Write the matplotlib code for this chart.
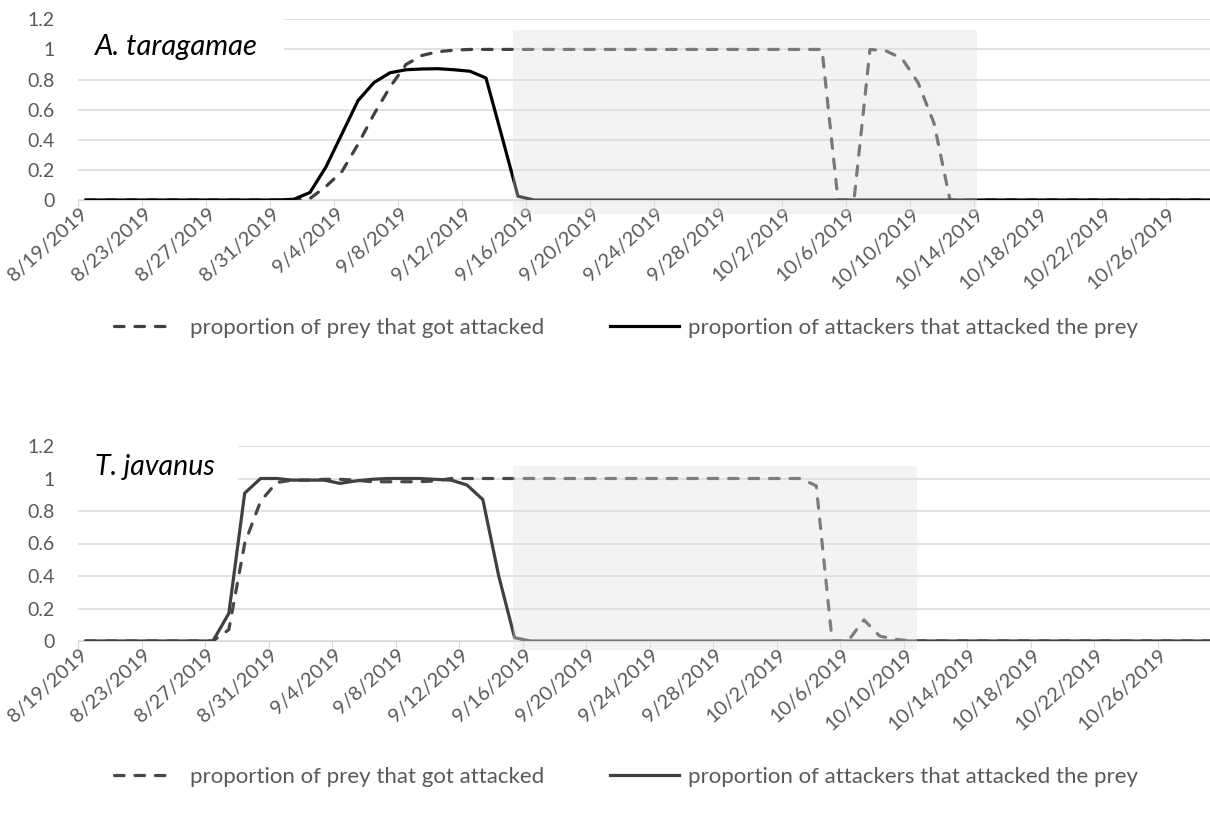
import pandas as pd
import matplotlib
matplotlib.use("Agg")
import matplotlib.pyplot as plt
import matplotlib.dates as mdates
import matplotlib.transforms as mtransforms
from matplotlib.lines import Line2D
from matplotlib.patches import Rectangle

plt.rcParams["font.family"] = ["Lato", "DejaVu Sans"]

# one value per day, plotted at midday
START = pd.Timestamp("2019-08-19")
DAYS = pd.date_range(START, periods=72, freq="D") + pd.Timedelta(hours=12)

TICK_LABELS = ["8/19/2019", "8/23/2019", "8/27/2019", "8/31/2019", "9/4/2019",
               "9/8/2019", "9/12/2019", "9/16/2019", "9/20/2019", "9/24/2019",
               "9/28/2019", "10/2/2019", "10/6/2019", "10/10/2019", "10/14/2019",
               "10/18/2019", "10/22/2019", "10/26/2019"]
Y_TICKS = [0, 0.2, 0.4, 0.6, 0.8, 1.0, 1.2]
Y_LABELS = ["0", "0.2", "0.4", "0.6", "0.8", "1", "1.2"]

LEGEND_LABELS = ["proportion of prey that got attacked",
                 "proportion of attackers that attacked the prey"]

# A. taragamae
PREY_A = ([0.0] * 14
          + [0.01, 0.09, 0.19, 0.37, 0.57, 0.75, 0.90, 0.96, 0.985, 0.995]
          + [1.0] * 23
          + [0.0, 0.0, 1.0, 0.99, 0.94, 0.78, 0.51]
          + [0.0] * 18)
ATTACK_A = ([0.0] * 13
            + [0.005, 0.05, 0.22, 0.44, 0.66, 0.78, 0.845, 0.865, 0.87, 0.872,
               0.865, 0.855, 0.81, 0.42, 0.025]
            + [0.0] * 44)

# T. javanus
PREY_T = ([0.0] * 9
          + [0.07, 0.60, 0.86, 0.975, 0.99, 0.99, 0.995, 0.995, 0.99, 0.98,
             0.98, 0.98, 0.98, 0.985]
          + [1.0] * 23
          + [0.955, 0.0, 0.0, 0.13, 0.03, 0.01]
          + [0.0] * 20)
ATTACK_T = ([0.0] * 9
            + [0.17, 0.91, 1.0, 1.0, 0.99, 0.99, 0.99, 0.97, 0.985, 0.995,
               1.0, 1.0, 1.0, 0.995, 0.99, 0.96, 0.87, 0.40, 0.02]
            + [0.0] * 44)

W, H = 1210, 813
LINE_W = 2.3
DASH = (3.0, 3.4)
GRID = "#d9d9d9"
TEXT = "#595959"

fig = plt.figure(figsize=(W / 100, H / 100), dpi=100)

panels = [
    dict(top=19.3, zero=200, prey=PREY_A, attack=ATTACK_A, c_prey="#404040", c_att="#000000",
         name="A. taragamae", name_size=21, name_y=0.963, shade=(27.19, 56.19),
         shade_y=(-0.096, 1.129), xend=70.75, box=284, leg_y=328),
    dict(top=446, zero=641, prey=PREY_T, attack=ATTACK_T, c_prey="#474747", c_att="#404040",
         name="T. javanus", name_size=20.5, name_y=1.02, shade=(27.4, 52.85),
         shade_y=(-0.057, 1.076), xend=71.3, box=238, leg_y=777),
]

tick_dates = pd.to_datetime(TICK_LABELS, format="%m/%d/%Y")

for p in panels:
    ax = fig.add_axes([78 / W, 1 - p["zero"] / H, (W - 78) / W, (p["zero"] - p["top"]) / H])
    ax.plot(DAYS, p["prey"], color=p["c_prey"], lw=LINE_W, linestyle=(0, DASH),
            dash_capstyle="round", zorder=3)
    ax.plot(DAYS, p["attack"], color=p["c_att"], lw=LINE_W, solid_joinstyle="round", zorder=3.1)

    ax.set_xlim(START, START + pd.Timedelta(days=p["xend"]))
    ax.set_ylim(0, 1.2)
    ax.set_yticks(Y_TICKS)
    ax.set_yticklabels(Y_LABELS)
    ax.set_xticks(tick_dates)
    ax.set_xticklabels(TICK_LABELS, rotation=42, ha="right", va="center", rotation_mode="anchor")

    ax.tick_params(axis="x", length=5, width=0.8, color=GRID, labelcolor=TEXT, labelsize=14.5, pad=3)
    ax.tick_params(axis="y", length=0, labelcolor=TEXT, labelsize=14, pad=17)
    # nudge the slanted labels right (after tick_params, which resets transforms)
    shift = mtransforms.ScaledTranslation(0.07, 0, fig.dpi_scale_trans)
    for lab in ax.get_xticklabels():
        lab.set_transform(lab.get_transform() + shift)

    ax.yaxis.grid(True, color=GRID, lw=1.1)
    ax.set_axisbelow(True)
    for side in ["left", "right", "top"]:
        ax.spines[side].set_visible(False)
    ax.spines["bottom"].set_color(GRID)

    # shaded period, laid over the lines
    x0 = mdates.date2num(START + pd.Timedelta(days=p["shade"][0]))
    y0, y1 = p["shade_y"]
    ax.add_patch(Rectangle((x0, y0), p["shade"][1] - p["shade"][0], y1 - y0,
                           fc="#e0e0e0", ec="none", alpha=0.36, clip_on=False, zorder=4))

    # white box behind the species name
    bx = (p["box"] - 78) / (W - 78)
    ax.add_patch(Rectangle((0, 0.93), bx, 0.32, transform=ax.get_yaxis_transform(),
                           fc="white", ec="none", clip_on=False, zorder=2))
    ax.text(17 / (W - 78), p["name_y"], p["name"], transform=ax.get_yaxis_transform(),
            fontsize=p["name_size"], fontstyle="italic", color="black", va="baseline",
            ha="left", zorder=5)

    h_prey = Line2D([], [], color=p["c_prey"], lw=LINE_W, linestyle=(0, DASH), dash_capstyle="round")
    h_att = Line2D([], [], color=p["c_att"], lw=LINE_W)
    for handle, label, lx, hl, tp in [(h_prey, LEGEND_LABELS[0], 114, 2.55, 0.85),
                                      (h_att, LEGEND_LABELS[1], 610, 3.1, 0.4)]:
        fig.legend([handle], [label], loc="center left", bbox_to_anchor=(lx / W, 1 - p["leg_y"] / H),
                   frameon=False, handlelength=hl, handletextpad=tp, borderpad=0,
                   borderaxespad=0, fontsize=16, labelcolor=TEXT)

fig.savefig("out.png", dpi=100)
